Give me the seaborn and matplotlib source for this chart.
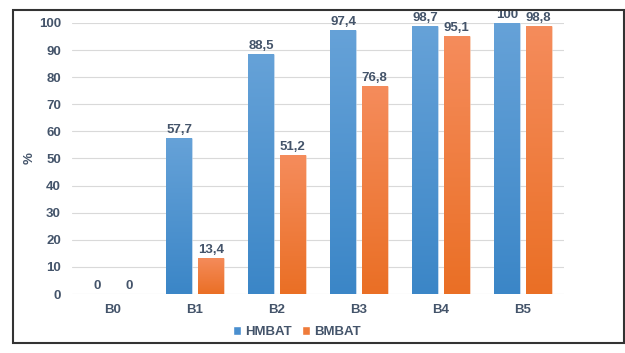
import numpy as np
import pandas as pd
import matplotlib
matplotlib.use("Agg")
import matplotlib.pyplot as plt
import seaborn as sns
from matplotlib.colors import LinearSegmentedColormap
from matplotlib.patches import Rectangle

# data
categories = ["B0", "B1", "B2", "B3", "B4", "B5"]
series = ["HMBAT", "BMBAT"]
hmbat = [0, 57.7, 88.5, 97.4, 98.7, 100]
bmbat = [0, 13.4, 51.2, 76.8, 95.1, 98.8]
y_ticks = list(range(0, 101, 10))

df = pd.DataFrame({
    "group": categories * 2,
    "series": [series[0]] * len(categories) + [series[1]] * len(categories),
    "value": hmbat + bmbat,
})

text_color = "#44546A"
palette = {"HMBAT": "#4A8FCF", "BMBAT": "#EF7B3A"}
# gradient (bottom, top) for each series
gradients = [("#3B86C7", "#66A2D8"), ("#EA6F25", "#F58C5C")]
fs = 9.5

sns.set_theme(style="white")
plt.rcParams["font.family"] = ["Liberation Sans", "DejaVu Sans"]

fig = plt.figure(figsize=(6.25, 3.53), dpi=100)
ax = fig.add_axes([0.1152, 0.167, 0.787, 0.768])

sns.barplot(data=df, x="group", y="value", hue="series", palette=palette,
            width=0.77, gap=0.18, saturation=1, ax=ax)

# office-style vertical gradient fill on each bar
grad = np.linspace(0, 1, 256).reshape(-1, 1)
for container, (c_bot, c_top) in zip(ax.containers, gradients):
    cmap = LinearSegmentedColormap.from_list("g", [c_bot, c_top])
    for bar in container:
        x0, y0, w, h = bar.get_x(), bar.get_y(), bar.get_width(), bar.get_height()
        bar.set_edgecolor((1, 1, 1, 0.35))
        bar.set_linewidth(0.8)
        if h <= 0:
            continue
        im = ax.imshow(grad, extent=[x0, x0 + w, y0, y0 + h], cmap=cmap,
                       aspect="auto", origin="lower", zorder=bar.get_zorder() + 0.1)
        im.set_clip_path(bar)

for container, vals in zip(ax.containers, [hmbat, bmbat]):
    labels = [f"{v:g}".replace(".", ",") for v in vals]
    ax.bar_label(container, labels=labels, padding=1.5, fontsize=fs,
                 fontweight="bold", color=text_color)

ax.set_xlim(-0.5, len(categories) - 0.5)
ax.set_ylim(0, 100)
ax.set_yticks(y_ticks)
ax.yaxis.grid(True, color="#D9D9D9", linewidth=0.8)
ax.set_axisbelow(True)
for s in ax.spines.values():
    s.set_visible(False)

ax.tick_params(axis="y", length=0, labelsize=fs, labelcolor=text_color, pad=8)
ax.tick_params(axis="x", length=0, labelsize=fs, labelcolor=text_color, pad=7)
for lab in ax.get_xticklabels() + ax.get_yticklabels():
    lab.set_fontweight("bold")

ax.set_xlabel("")
ax.set_ylabel("%", fontsize=fs, fontweight="bold", color=text_color, labelpad=2)

sns.move_legend(ax, "center", bbox_to_anchor=(0.457, -0.14), ncol=2, frameon=False,
                title=None, fontsize=fs, handlelength=0.6, handleheight=0.6,
                handletextpad=0.3, columnspacing=0.8)
for t in ax.get_legend().get_texts():
    t.set_fontweight("bold")
    t.set_color(text_color)

# outer frame around the chart
fig.add_artist(Rectangle((13 / 625, 1 - 343 / 353), 611 / 625, 333 / 353,
                         transform=fig.transFigure, fill=False,
                         edgecolor="#333333", linewidth=1.5))

fig.savefig("out.png", dpi=100)
